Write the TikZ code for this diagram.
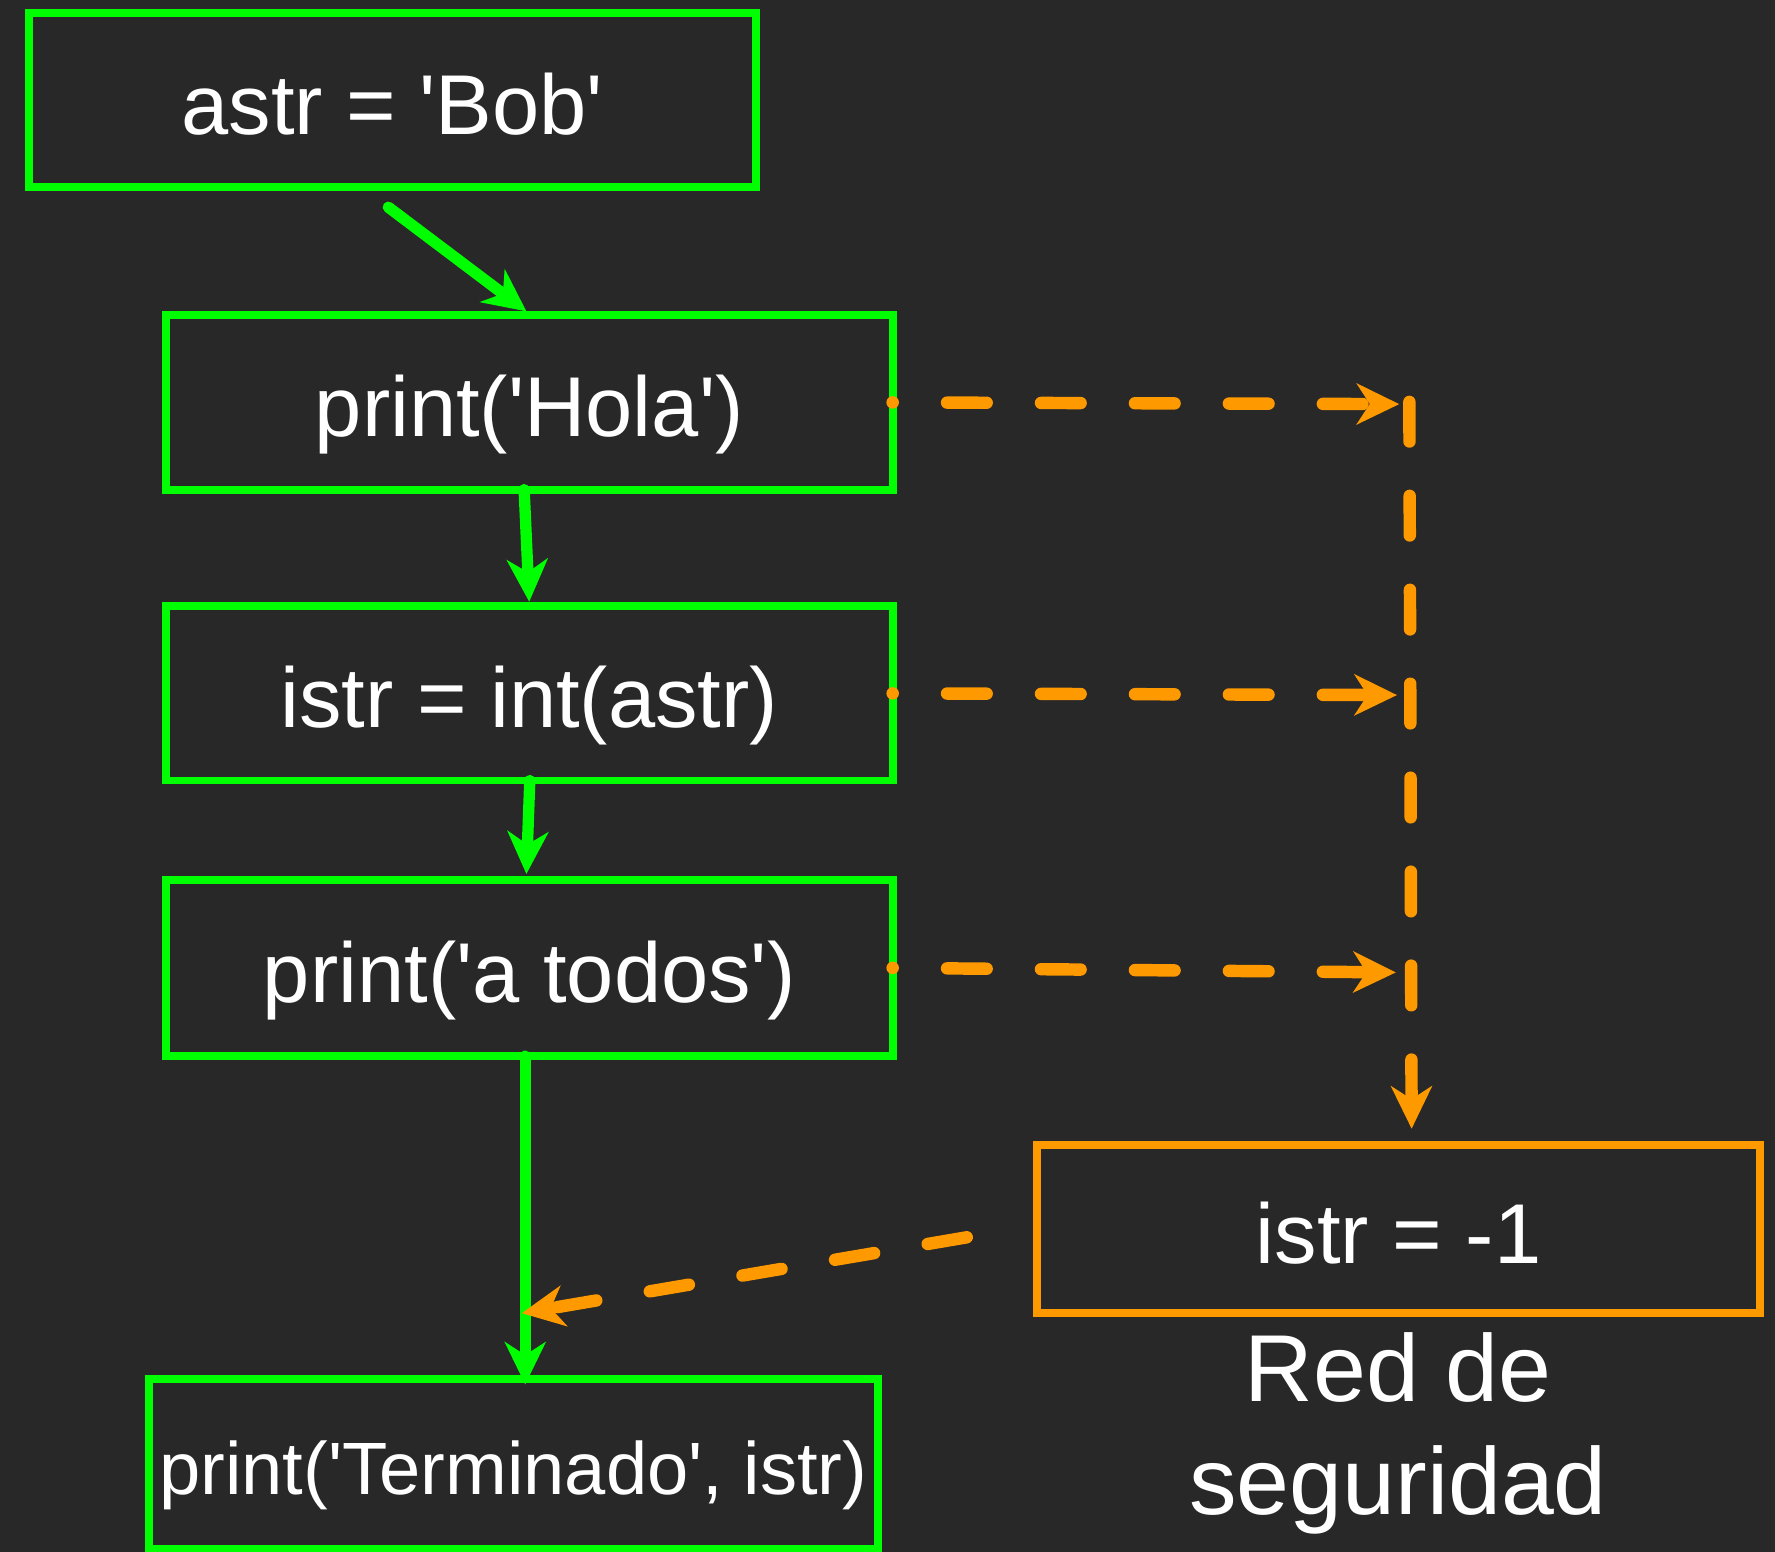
\documentclass[tikz,border=0pt]{standalone}
\usepackage{fontspec}
\setmainfont{Liberation Sans}[Ligatures=TeXOff]
\usetikzlibrary{arrows.meta}
\definecolor{bg}{HTML}{282828}
\definecolor{grn}{HTML}{00FF00}
\definecolor{org}{HTML}{FF9900}
\begin{document}
\begin{tikzpicture}[x=1pt,y=-1pt,
  box/.style={draw=grn, line width=7pt, minimum width=642pt, minimum height=154pt, inner sep=0pt, outer sep=0pt, text=white, font=\fontsize{75}{90}\selectfont, text height=61pt, text depth=0pt},
  obox/.style={box, draw=org},
  tipst/.style={-{Stealth[length=38pt,width=37pt,inset=12pt,line width=0pt]}},
  garrow/.style={draw=grn, line width=10pt, line cap=round, tipst},
  oarrow/.style={draw=org, line width=11pt, line cap=round, dash pattern=on 35pt off 48pt, tipst},
  dotstart/.style={dash phase=34.9pt},
]
\fill[bg] (0,0) rectangle (1568,1371);
\useasboundingbox (0,0) rectangle (1568,1371);

\node[box] (b1) at (346.5,88.5) {astr = 'Bob'};
\node[box] (b2) at (467.5,355.5) {print('Hola')};
\node[box] (b3) at (467.5,612.5) {istr = int(astr)};
\node[box, minimum height=156pt] (b4) at (467.5,855) {print('a todos')};
\node[box, minimum width=644pt, minimum height=150pt, font=\fontsize{65.5}{78}\selectfont, text height=55pt] (b5) at (453.5,1293) {print('Terminado', istr)};
\node[obox, minimum width=639pt, minimum height=148pt] (ob) at (1235.5,1085.5) {istr = -1};
\node[text=white, font=\fontsize{84}{100}\selectfont, align=center, inner sep=0pt] (lbl) at (1235,1266) {Red de\\seguridad};

\coordinate (j1) at (1236,357);
\coordinate (j2) at (1234,614);
\coordinate (j3) at (1233,859);
\coordinate (vtop) at (1245,355);

% green flow
\draw[garrow] ([xshift=-3.5pt,yshift=-17.5pt]b1.south) -- ([xshift=-2.5pt,yshift=3.5pt]b2.north);
\draw[garrow] ([xshift=-4.5pt]b2.south) -- ([yshift=4pt]b3.north);
\draw[garrow] ([xshift=0.5pt]b3.south) -- ([xshift=-2.5pt,yshift=5pt]b4.north);
\draw[garrow] ([xshift=-3.5pt]b4.south) -- ([xshift=10.5pt,yshift=-5pt]b5.north);

% orange safety net
\draw[oarrow, dotstart] (b2.east) -- (j1);
\draw[oarrow, dotstart] (b3.east) -- (j2);
\draw[oarrow, dotstart] (b4.east) -- (j3);
\draw[oarrow] (vtop) -- ([xshift=11.5pt,yshift=14.5pt]ob.north);
\draw[oarrow] ([xshift=-62pt,yshift=-7.5pt]ob.west) -- ([xshift=7.5pt,yshift=58pt]b5.north);
\end{tikzpicture}
\end{document}
